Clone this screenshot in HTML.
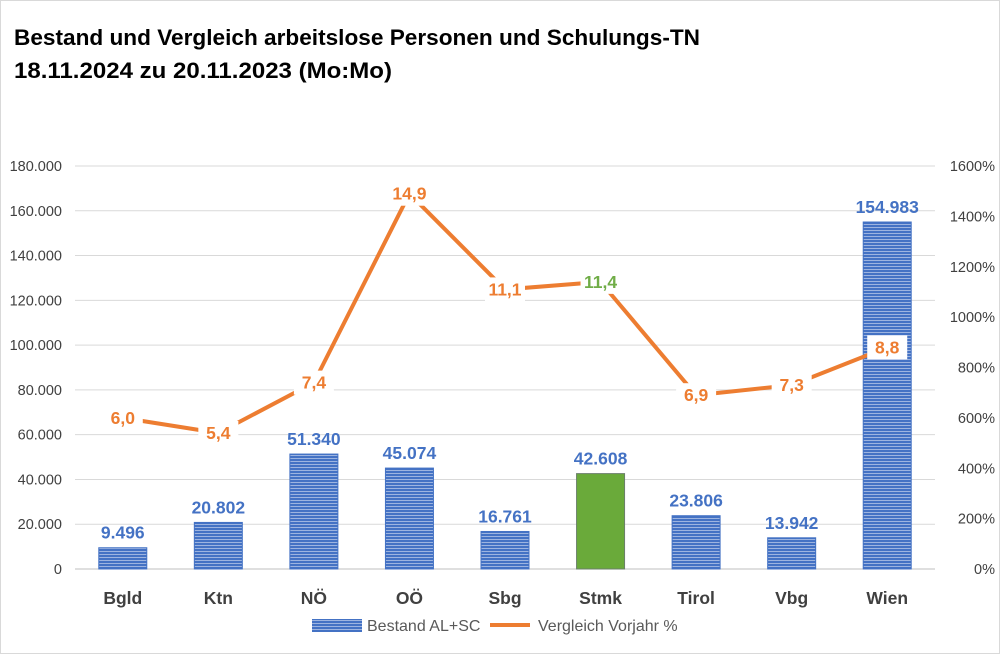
<!DOCTYPE html>
<html><head><meta charset="utf-8"><style>
body{margin:0;background:#fff;}
svg{display:block;font-family:"Liberation Sans",sans-serif;}
</style></head><body>
<svg id="c" width="1000" height="654" viewBox="0 0 1000 654">
<defs>
<pattern id="stripe" width="4" height="3" patternUnits="userSpaceOnUse">
<rect width="4" height="3" fill="#9db4e0"/><rect width="4" height="2" fill="#4472c4"/>
</pattern>
</defs>
<rect x="0.5" y="0.5" width="999" height="653" fill="#fff" stroke="#d9d9d9"/>
<text x="14" y="45" font-size="22" font-weight="bold" fill="#000" textLength="686" lengthAdjust="spacingAndGlyphs">Bestand und Vergleich arbeitslose Personen und Schulungs-TN</text>
<text x="14" y="78" font-size="22" font-weight="bold" fill="#000" textLength="378" lengthAdjust="spacingAndGlyphs">18.11.2024 zu 20.11.2023 (Mo:Mo)</text>
<g id="grid"></g><g id="bars"></g><g id="line"></g><g id="labels"></g>
<g>
<rect x="312" y="619" width="50" height="13" fill="url(#stripe)"/>
<text x="367" y="631" font-size="16" fill="#595959">Bestand AL+SC</text>
<line x1="490" y1="625" x2="530" y2="625" stroke="#ed7d31" stroke-width="4"/>
<text x="538" y="631" font-size="16" fill="#595959">Vergleich Vorjahr %</text>
</g>
</svg>
<script>
const categories=["Bgld","Ktn","NÖ","OÖ","Sbg","Stmk","Tirol","Vbg","Wien"];
const bestand=[9496,20802,51340,45074,16761,42608,23806,13942,154983];
const vergleich=[6.0,5.4,7.4,14.9,11.1,11.4,6.9,7.3,8.8];
const leftTicks=[0,20000,40000,60000,80000,100000,120000,140000,160000,180000];
const rightTicks=[0,200,400,600,800,1000,1200,1400,1600];
const NS="http://www.w3.org/2000/svg";
const x0=75,x1=935,yB=569,yT=166;
const band=(x1-x0)/categories.length;
const xs=i=>x0+band*(i+0.5);
const yL=v=>yB-(v/180000)*(yB-yT);
const yR=p=>yB-(p/1600)*(yB-yT);
const fmt=v=>v.toLocaleString("de-DE").replace(/,/g,".");
function mk(tag,attrs,parent,text){const e=document.createElementNS(NS,tag);for(const k in attrs)e.setAttribute(k,attrs[k]);if(text!==undefined)e.textContent=text;document.getElementById(parent).appendChild(e);return e;}
leftTicks.forEach(t=>{
 const y=yL(t);
 const g=mk("line",{x1:x0,x2:x1,y1:y,y2:y,stroke:t===0?"#bfbfbf":"#d9d9d9","stroke-width":1},"grid");
 
 
 const l=mk("text",{x:62,y:y+5,"font-size":14.5,fill:"#404040","text-anchor":"end"},"grid",t===0?"0":fmt(t));
 
 
});
rightTicks.forEach(t=>{
 const l=mk("text",{x:995,y:yR(t)+5,"font-size":14.5,fill:"#404040","text-anchor":"end"},"grid",t+"%");
 
 
});
categories.forEach((c,i)=>{
 const bw=48,x=xs(i)-bw/2,y=yL(bestand[i]);
 const green=c==="Stmk";
 const r=mk("rect",{x:x,y:y,width:bw,height:yB-y,fill:green?"#6aaa3a":"url(#stripe)",stroke:green?"#6b7f6a":"#4472c4","stroke-width":1},"bars");
 
 
 const t=mk("text",{x:xs(i),y:y-9,"font-size":17.5,"font-weight":"bold",fill:"#4472c4","text-anchor":"middle"},"labels",fmt(bestand[i]));
 
 
 const cl=mk("text",{x:xs(i),y:604,"font-size":17.5,"font-weight":"bold",fill:"#404040","text-anchor":"middle"},"grid",c);
 
 
});
const pts=vergleich.map((v,i)=>xs(i)+","+yR(v*100)).join(" ");
const pl=mk("polyline",{points:pts,fill:"none",stroke:"#ed7d31","stroke-width":4,"stroke-linejoin":"round"},"line");


vergleich.forEach((v,i)=>{
 const x=xs(i),y=yR(v*100);
 const bg=mk("rect",{x:x-20,y:y-12,width:40,height:24,fill:"#fff"},"labels");
 
 
 const t=mk("text",{x:x,y:y+6,"font-size":17.5,"font-weight":"bold",fill:categories[i]==="Stmk"?"#70ad47":"#ed7d31","text-anchor":"middle"},"labels",v.toFixed(1).replace(".",","));
 
 
});
</script>
</body></html>
